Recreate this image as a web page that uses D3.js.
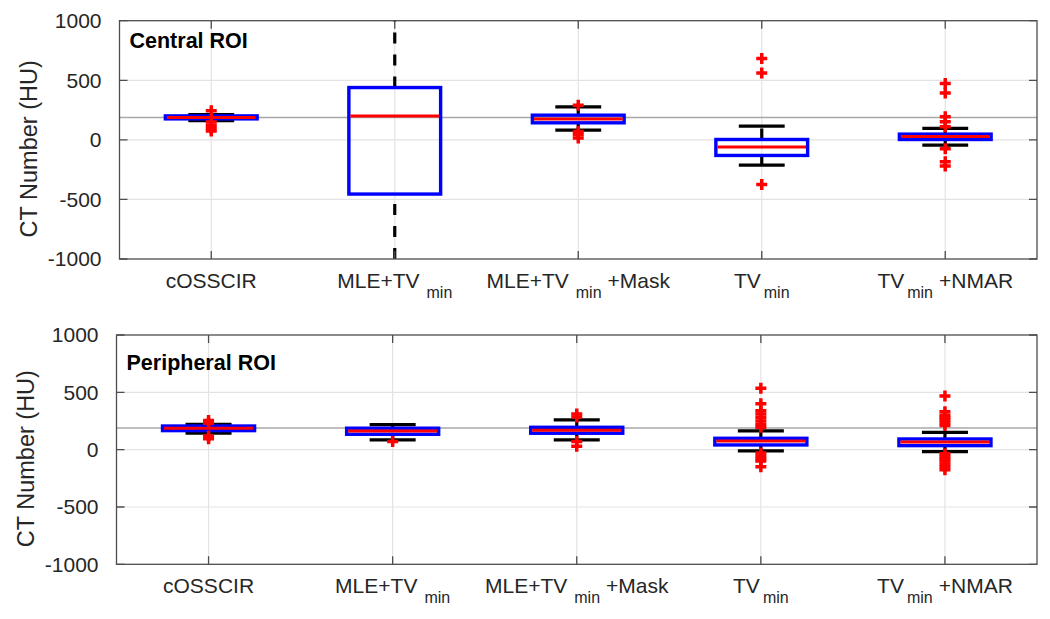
<!DOCTYPE html>
<html><head><meta charset="utf-8">
<script src="https://cdn.jsdelivr.net/npm/d3@7"></script>
<style>
body{margin:0;background:#fff}
svg{display:block;font-family:"Liberation Sans",Arial,Helvetica,sans-serif}
</style>
</head><body>
<svg id="chart" width="1050" height="619"></svg>
<script>
// ---- data ----
const categories = ["cOSSCIR", "MLE+TV_min", "MLE+TV_min +Mask", "TV_min", "TV_min +NMAR"];
const labelMain = ["cOSSCIR", "MLE+TV", "MLE+TV", "TV", "TV"];
const labelSub  = ["", "min", "min", "min", "min"];
const labelTail = ["", "", "+Mask", "", "+NMAR"];
const yTicks = [-1000, -500, 0, 500, 1000];
const referenceValue = 188;

const centralQ1     = [176, -455, 143, -131, 3];
const centralMedian = [188, 201, 174, -61, 28];
const centralQ3     = [201, 439, 207, 3, 48];
const centralLow    = [161, -1370, 81, -212, -44];
const centralHigh   = [211, 1400, 277, 115, 96];
const centralOutliers = [
  [245, 150, 120, 95, 75],
  [],
  [290, 70, 45, 15],
  [682, 562, -374],
  [473, 394, 193, 151, 109, -75, -184, -220]
];

const peripheralQ1     = [166, 134, 143, 41, 35];
const peripheralMedian = [187, 163, 169, 76, 67];
const peripheralQ3     = [206, 187, 195, 99, 93];
const peripheralLow    = [143, 85, 85, -11, -17];
const peripheralHigh   = [221, 218, 259, 163, 151];
const peripheralOutliers = [
  [255, 230, 120, 95],
  [70],
  [310, 285, 70, 30],
  [535, 400, 340, 310, 280, 250, 220, 195, -30, -55, -80, -100, -150],
  [468, 330, 300, 280, 260, 235, 210, -35, -60, -80, -100, -125, -150, -175]
];

// ---- layout ----
const panels = [
  {title: "Central ROI", q1: centralQ1, med: centralMedian, q3: centralQ3, lo: centralLow, hi: centralHigh, out: centralOutliers,
   left: 119.5, right: 1037, top: 20.7, bottom: 259, titleY: 48.3},
  {title: "Peripheral ROI", q1: peripheralQ1, med: peripheralMedian, q3: peripheralQ3, lo: peripheralLow, hi: peripheralHigh, out: peripheralOutliers,
   left: 116.5, right: 1037, top: 335, bottom: 564.3, titleY: 370}
];

const svg = d3.select("#chart");
const textColor = "#262626";
const axisColor = "#4d4d4d";

panels.forEach((p, pi) => {
  const x = d3.scaleLinear().domain([0.5, categories.length + 0.5]).range([p.left, p.right]);
  const y = d3.scaleLinear().domain([-1000, 1000]).range([p.bottom, p.top]);
  const idx = d3.range(categories.length);
  const unit = x(1) - x(0);
  const boxW = 0.5 * unit, capW = 0.25 * unit;

  const g = svg.append("g");
  const clipId = "clip" + pi;
  g.append("clipPath").attr("id", clipId).append("rect")
    .attr("x", p.left).attr("y", p.top).attr("width", p.right - p.left).attr("height", p.bottom - p.top);

  // grid
  g.append("g").selectAll("line").data(yTicks.slice(1, -1)).join("line")
    .attr("x1", p.left).attr("x2", p.right).attr("y1", d => y(d)).attr("y2", d => y(d))
    .attr("stroke", "#e3e3e3").attr("stroke-width", 1.2);
  g.append("g").selectAll("line").data(idx).join("line")
    .attr("x1", d => x(d + 1)).attr("x2", d => x(d + 1)).attr("y1", p.top).attr("y2", p.bottom)
    .attr("stroke", "#e3e3e3").attr("stroke-width", 1.2);

  // reference line
  g.append("line").attr("x1", p.left).attr("x2", p.right)
    .attr("y1", y(referenceValue)).attr("y2", y(referenceValue))
    .attr("stroke", "#a8a8a8").attr("stroke-width", 1.5);

  const plot = g.append("g").attr("clip-path", `url(#${clipId})`);

  // whiskers
  plot.append("g").selectAll("line").data(idx).join("line")
    .attr("x1", d => x(d + 1)).attr("x2", d => x(d + 1))
    .attr("y1", d => y(p.q3[d])).attr("y2", d => y(p.hi[d]))
    .attr("stroke", "#000").attr("stroke-width", 3.2).attr("stroke-dasharray", "11,11");
  plot.append("g").selectAll("line").data(idx).join("line")
    .attr("x1", d => x(d + 1)).attr("x2", d => x(d + 1))
    .attr("y1", d => y(p.lo[d])).attr("y2", d => y(p.q1[d]))
    .attr("stroke", "#000").attr("stroke-width", 3.2).attr("stroke-dasharray", "11,11");
  // caps
  ["lo", "hi"].forEach(k => {
    plot.append("g").selectAll("line").data(idx).join("line")
      .attr("x1", d => x(d + 1) - capW / 2).attr("x2", d => x(d + 1) + capW / 2)
      .attr("y1", d => y(p[k][d])).attr("y2", d => y(p[k][d]))
      .attr("stroke", "#000").attr("stroke-width", 3.2);
  });
  // boxes
  plot.append("g").selectAll("rect").data(idx).join("rect")
    .attr("x", d => x(d + 1) - boxW / 2).attr("width", boxW)
    .attr("y", d => y(p.q3[d])).attr("height", d => y(p.q1[d]) - y(p.q3[d]))
    .attr("fill", "none").attr("stroke", "#0000ff").attr("stroke-width", 3.4);
  // medians
  plot.append("g").selectAll("line").data(idx).join("line")
    .attr("x1", d => x(d + 1) - boxW / 2 + 1.5).attr("x2", d => x(d + 1) + boxW / 2 - 1.5)
    .attr("y1", d => y(p.med[d])).attr("y2", d => y(p.med[d]))
    .attr("stroke", "#ff0000").attr("stroke-width", 3);
  // outliers
  const outs = idx.flatMap(d => p.out[d].map(v => ({c: d, v})));
  plot.append("g").selectAll("path").data(outs).join("path")
    .attr("transform", d => `translate(${x(d.c + 1)},${y(d.v)})`)
    .attr("d", "M-5.5,0H5.5M0,-5.5V5.5")
    .attr("stroke", "#ff0000").attr("stroke-width", 3.5).attr("fill", "none");

  // frame
  g.append("rect").attr("x", p.left).attr("y", p.top)
    .attr("width", p.right - p.left).attr("height", p.bottom - p.top)
    .attr("fill", "none").attr("stroke", axisColor).attr("stroke-width", 1.3);

  // ticks (inward)
  const tl = 8;
  g.append("g").selectAll("path").data(idx).join("path")
    .attr("d", d => `M${x(d + 1)},${p.bottom}v${-tl}M${x(d + 1)},${p.top}v${tl}`)
    .attr("stroke", axisColor).attr("stroke-width", 1.3);
  g.append("g").selectAll("path").data(yTicks).join("path")
    .attr("d", d => `M${p.left},${y(d)}h${tl}M${p.right},${y(d)}h${-tl}`)
    .attr("stroke", axisColor).attr("stroke-width", 1.3);

  // y tick labels
  g.append("g").selectAll("text").data(yTicks).join("text")
    .attr("x", p.left - 18).attr("y", d => y(d)).attr("dy", "0.35em")
    .attr("text-anchor", "end").attr("font-size", 21).attr("fill", textColor)
    .text(d => d);

  // x tick labels
  const xl = g.append("g").selectAll("text").data(idx).join("text")
    .attr("x", d => x(d + 1)).attr("y", p.bottom + 29)
    .attr("text-anchor", "middle").attr("font-size", 21).attr("fill", textColor);
  xl.each(function(d) {
    const t = d3.select(this);
    t.append("tspan").text(labelMain[d]);
    if (labelSub[d]) {
      t.append("tspan").attr("dx", labelMain[d].length > 2 ? 7 : 3).attr("dy", 10)
        .attr("font-size", 16).text(labelSub[d]);
      if (labelTail[d]) t.append("tspan").attr("dx", 6).attr("dy", -10).text(labelTail[d]);
    }
  });

  // y axis label
  g.append("text")
    .attr("transform", `translate(${p.left - 83},${(p.top + p.bottom) / 2 + 9}) rotate(-90)`)
    .attr("text-anchor", "middle").attr("font-size", 23.5).attr("fill", textColor)
    .text("CT Number (HU)");

  // panel title
  g.append("text").attr("x", p.left + 10).attr("y", p.titleY)
    .attr("font-size", 21.5).attr("font-weight", "bold").attr("fill", "#000")
    .text(p.title);
});
</script>
</body></html>
